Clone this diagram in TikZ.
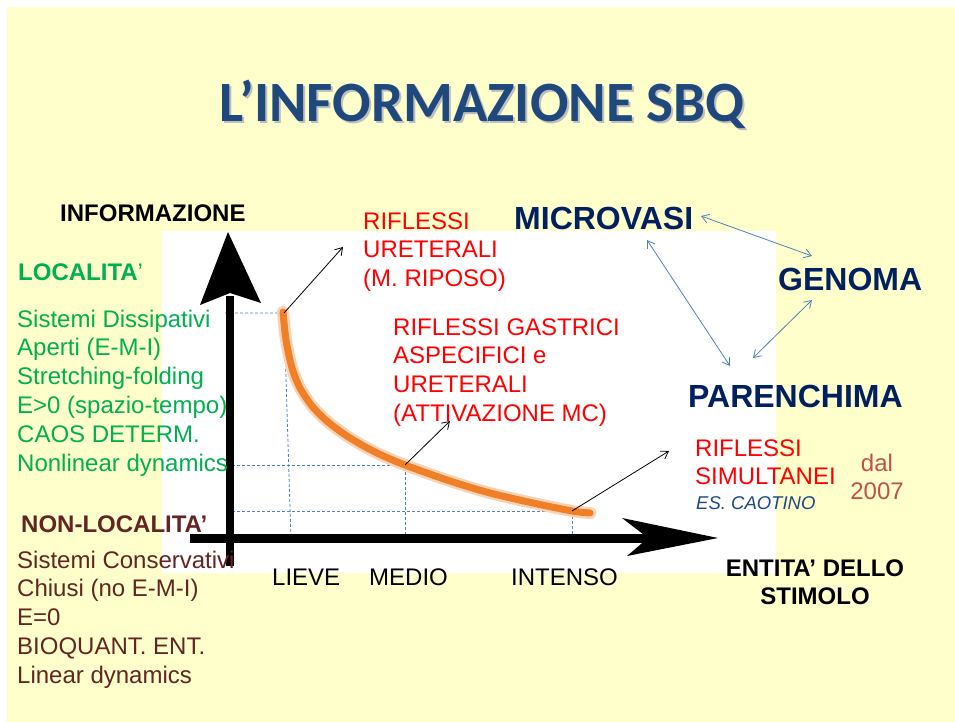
\documentclass[tikz,border=0pt]{standalone}
\usepackage{fontspec}
\setmainfont{Liberation Sans}
\newfontfamily\titlefont{Carlito}
\usetikzlibrary{arrows.meta}
\definecolor{bgyellow}{HTML}{FFFFCC}
\definecolor{titleblue}{HTML}{1F497D}
\definecolor{navy}{HTML}{002060}
\definecolor{locgreen}{HTML}{00B050}
\definecolor{nonloc}{HTML}{632523}
\definecolor{linkblue}{HTML}{4F81BD}
\definecolor{datered}{HTML}{C0504D}
\definecolor{curveorange}{RGB}{240,128,40}

\begin{document}
\begin{tikzpicture}[x=1pt, y=-1pt, >={Straight Barb[length=7pt,width=9pt]},
  txt/.style={anchor=base west, inner sep=0pt, align=left, font=\fontsize{24}{28.8}\selectfont},
  big/.style={anchor=base west, inner sep=0pt, font=\fontsize{32}{36}\selectfont\bfseries, text=navy},
  guide/.style={dash pattern=on 3pt off 2pt, line width=0.8pt, color=linkblue},
  pointer/.style={->, line width=0.8pt},
  link/.style={<->, line width=0.8pt, color=linkblue}]
\useasboundingbox (0,0) rectangle (955,722);
\fill[white] (0,0) rectangle (955,722);
\fill[bgyellow] (7,7) rectangle (955,722);
\fill[white] (162,231) rectangle (776,573);

\node[text=black!25, font=\titlefont\bfseries\fontsize{57}{60}\selectfont, anchor=base, inner sep=0pt] at (484,124) {L’INFORMAZIONE SBQ};
\node[text=titleblue, font=\titlefont\bfseries\fontsize{57}{60}\selectfont, anchor=base, inner sep=0pt] (title) at (482,122) {L’INFORMAZIONE SBQ};

\coordinate (pL) at (284,313);
\coordinate (pM) at (405,465);
\coordinate (pI) at (572,511);
\draw[guide] (225,313) -- (pL) -- (291,540);
\draw[guide] (232,465) -- (pM) -- (405,538);
\draw[guide] (232,511) -- (pI) -- (572,538);

\draw[curveorange!35, line width=12pt, line cap=round] plot[smooth, tension=0.5] coordinates {(283,312) (286,340) (292,368) (300,388) (312,406) (328,422) (350,438) (377,453) (405,465) (450,481) (490,493) (533,503) (572,511) (590,513)};
\draw[curveorange, line width=7pt, line cap=round] plot[smooth, tension=0.5] coordinates {(283,312) (286,340) (292,368) (300,388) (312,406) (328,422) (350,438) (377,453) (405,465) (450,481) (490,493) (533,503) (572,511) (590,513)};

\draw[line width=8pt] (230,566) -- (230,296);
\fill (228,232) -- (261,303) -- (230,293) -- (200,305) -- cycle;
\draw[line width=9pt] (190,538) -- (660,538);
\fill (718,538) -- (627,556) -- (648,538) -- (622,518) -- cycle;

\node[txt, font=\fontsize{24}{28.8}\selectfont\bfseries] (info) at (60,221) {INFORMAZIONE};
\node[txt, text=locgreen] (loc) at (18,280) {\textbf{LOCALITA}’};
\node[txt, text=locgreen] (locl) at (17,471) {Sistemi Dissipativi\\Aperti (E-M-I)\\Stretching-folding\\E>0 (spazio-tempo)\\CAOS DETERM.\\Nonlinear dynamics};
\node[txt, text=nonloc, font=\fontsize{24}{28.8}\selectfont\bfseries] (nonloc) at (21,532) {NON-LOCALITA’};
\node[txt, text=nonloc] (nonlocl) at (17,683.2) {Sistemi Conservativi\\Chiusi (no E-M-I)\\E=0\\BIOQUANT. ENT.\\Linear dynamics};

\node[txt, text=red] (rifl) at (363,286.6) {RIFLESSI\\URETERALI\\(M. RIPOSO)};
\node[txt, text=red] (rifm) at (393,421.4) {RIFLESSI GASTRICI\\ASPECIFICI e\\URETERALI\\(ATTIVAZIONE MC)};
\node[txt, text=red] (rifi) at (695,484.8) {RIFLESSI\\SIMULTANEI};
\node[txt, text=titleblue, font=\fontsize{18.5}{20}\selectfont\itshape] (caos) at (696,509) {ES. CAOTINO};
\node[txt, text=datered, align=center, anchor=base] (dal) at (877,499.8) {dal\\2007};

\node[big] (micro) at (514,229) {MICROVASI};
\node[big] (genoma) at (778,290) {GENOMA};
\node[big] (paren) at (688,407) {PARENCHIMA};

\node[txt] (lieve) at (272,585) {LIEVE};
\node[txt] (medio) at (369,585) {MEDIO};
\node[txt] (intenso) at (511,585) {INTENSO};
\node[txt, align=center, anchor=base, font=\fontsize{24}{28.8}\selectfont\bfseries] (entita) at (815,604.8) {ENTITA’ DELLO\\STIMOLO};

\coordinate (aL) at (343,247);
\coordinate (aM) at (450,421);
\coordinate (aI) at (669,451);
\draw[pointer] (pL) -- (aL);
\draw[pointer] (pM) -- (aM);
\draw[pointer] (pI) -- (aI);

\coordinate (mg1) at (701,216);
\coordinate (mg2) at (812,256);
\coordinate (mp1) at (647,240);
\coordinate (mp2) at (730,366);
\coordinate (gp1) at (812,300);
\coordinate (gp2) at (753,358);
\draw[link] (mg1) -- (mg2);
\draw[link] (mp1) -- (mp2);
\draw[link] (gp1) -- (gp2);
\end{tikzpicture}
\end{document}
